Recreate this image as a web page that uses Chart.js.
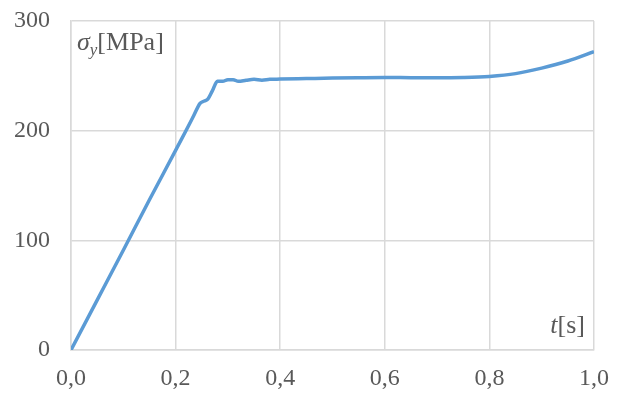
<!DOCTYPE html>
<html>
<head>
<meta charset="utf-8">
<script src="https://cdn.jsdelivr.net/npm/chart.js@4/dist/chart.umd.min.js"></script>
<style>
  html, body { margin: 0; padding: 0; background: #fff; }
</style>
</head>
<body>
<canvas id="chart" width="623" height="393"></canvas>
<script>
// time [s]
const timeValues = [0, 0.05, 0.10, 0.15, 0.20, 0.235, 0.243, 0.247, 0.255, 0.262, 0.270, 0.280, 0.290,
  0.300, 0.310, 0.320, 0.335, 0.350, 0.365, 0.380, 0.400, 0.450, 0.500, 0.550, 0.600, 0.650,
  0.700, 0.750, 0.800, 0.850, 0.900, 0.950, 1.000];
// yield stress [MPa]
const stressValues = [0, 45.5, 91, 137, 182, 214, 222, 225, 227, 229, 236, 245, 245,
  246.5, 246.5, 245, 246, 246.8, 246, 246.8, 247, 247.5, 248, 248.3, 248.5, 248.3,
  248.2, 248.5, 249.5, 252, 257, 263.5, 272];

const xTickLabels = ['0,0', '0,2', '0,4', '0,6', '0,8', '1,0'];
const yTickLabels = ['0', '100', '200', '300'];

const gridColor = '#d9d9d9';
const textColor = '#595959';

const axisTitles = {
  id: 'axisTitles',
  afterDraw(chart) {
    const c = chart.ctx;
    const area = chart.chartArea;
    c.save();
    c.fillStyle = textColor;
    c.textBaseline = 'alphabetic';
    c.textAlign = 'left';
    // sigma_y [MPa]
    let x = area.left + 6;
    const yb = area.top + 29;
    c.font = 'italic 26px "Liberation Serif"';
    c.fillText('σ', x, yb);
    x += c.measureText('σ').width;
    c.font = 'italic 17px "Liberation Serif"';
    c.fillText('y', x, yb + 5);
    x += c.measureText('y').width;
    c.font = '26px "Liberation Serif"';
    c.fillText('[MPa]', x, yb);
    // t [s]
    c.font = '26px "Liberation Serif"';
    const sw = c.measureText('[s]').width;
    c.font = 'italic 26px "Liberation Serif"';
    const tw = c.measureText('t').width;
    const tx = area.right - 9 - sw - tw;
    const tb = area.bottom - 17;
    c.fillText('t', tx, tb);
    c.font = '26px "Liberation Serif"';
    c.fillText('[s]', tx + tw, tb);
    c.restore();
  }
};

new Chart(document.getElementById('chart').getContext('2d'), {
  type: 'line',
  data: {
    datasets: [{
      data: timeValues.map((t, i) => ({ x: t, y: stressValues[i] })),
      borderColor: '#5b9bd5',
      borderWidth: 3.5,
      pointRadius: 0,
      fill: false,
      cubicInterpolationMode: 'monotone'
    }]
  },
  options: {
    responsive: false,
    animation: false,
    layout: { padding: { top: 21, right: 29, left: 0, bottom: 0 } },
    plugins: { legend: { display: false }, tooltip: { enabled: false } },
    scales: {
      x: {
        type: 'linear',
        min: 0,
        max: 1,
        afterFit: s => { s.height = 43; s.paddingLeft = 0; s.paddingRight = 0; },
        grid: { color: gridColor, lineWidth: 1.5, drawTicks: false },
        border: { color: gridColor, width: 1.5 },
        ticks: {
          stepSize: 0.2,
          padding: 14,
          color: textColor,
          font: { family: 'Liberation Serif', size: 24 },
          callback: (v, i) => xTickLabels[i]
        }
      },
      y: {
        min: 0,
        max: 300,
        afterFit: s => { s.width = 71; s.paddingTop = 0; s.paddingBottom = 0; },
        grid: { color: gridColor, lineWidth: 1.5, drawTicks: false },
        border: { color: gridColor, width: 1.5 },
        ticks: {
          stepSize: 100,
          padding: 21,
          color: textColor,
          font: { family: 'Liberation Serif', size: 24 },
          callback: (v, i) => yTickLabels[i]
        }
      }
    }
  },
  plugins: [axisTitles]
});
</script>
</body>
</html>
